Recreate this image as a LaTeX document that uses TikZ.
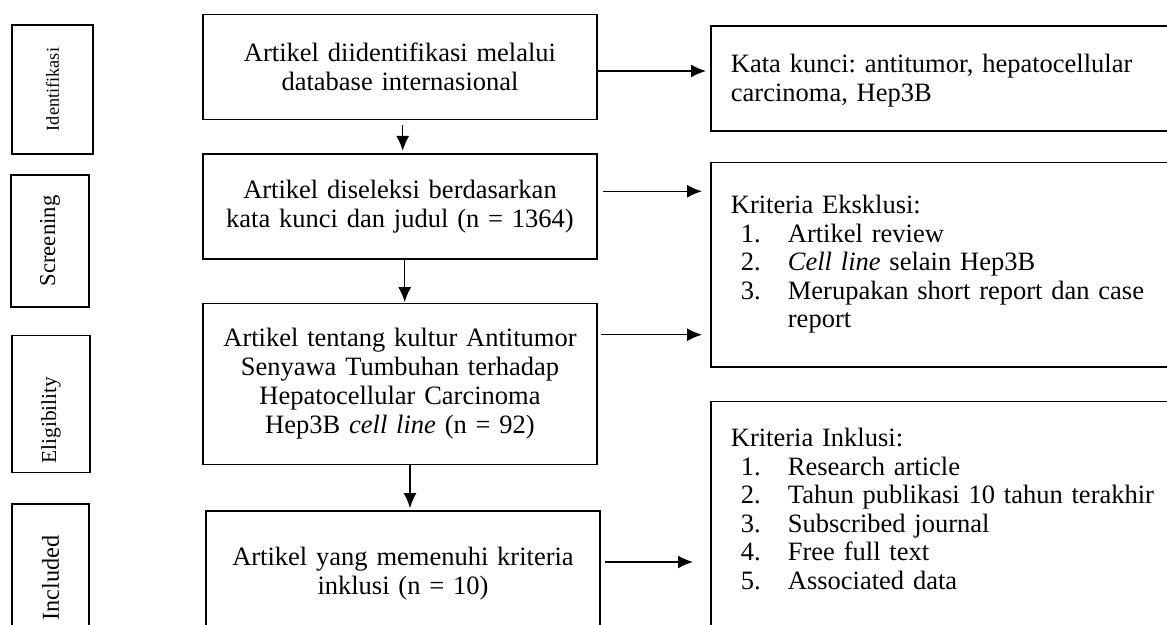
\documentclass[tikz,border=0pt]{standalone}
\usepackage{fontspec}
\setmainfont{Liberation Serif}
\usepackage{tikz}
\usetikzlibrary{shapes,arrows.meta}
\frenchspacing
\tikzstyle{flowbox} = [rectangle, draw, line width=1.8pt, text width=374pt, text centered,
    inner xsep=10pt, font=\fontsize{26.5}{29}\selectfont]
\tikzstyle{notebox} = [rectangle, draw, line width=1.8pt, text width=430pt, align=left,
    inner xsep=20pt, inner ysep=10pt, anchor=north west, font=\fontsize{26.5}{28.5}\selectfont]
\tikzstyle{stagebox} = [rectangle, draw, line width=1.8pt, rotate=90, inner sep=0pt]
\tikzstyle{line} = [draw, line width=1.4pt, -{Latex[length=15pt,width=13pt]}]
\newcommand{\critem}[2]{\hspace*{10pt}\makebox[47pt][l]{#1}#2}

\begin{document}
\begin{tikzpicture}[x=1pt, y=1pt]
    \useasboundingbox (0,0) rectangle (1167,624);
    % stage labels
    \node [stagebox, minimum width=129pt, minimum height=81pt, font=\fontsize{18.3}{20}\selectfont] (sIdent) at (52.5,534.5) {Identifikasi};
    \node [stagebox, minimum width=132pt, minimum height=78pt, font=\fontsize{22.7}{25}\selectfont] (sScreen) at (50,383) {Screening};
    \node [stagebox, minimum height=78pt, text width=119pt, align=left, inner xsep=9pt, font=\fontsize{21.4}{24}\selectfont] (sElig) at (51,220) {Eligibility};
    \node [stagebox, minimum width=148pt, minimum height=77pt, font=\fontsize{24.3}{27}\selectfont] (sIncl) at (50.5,46) {Included};
    % main column
    \node [flowbox, minimum height=105pt] (ident) at (400,557) {Artikel diidentifikasi melalui\\ database internasional};
    \node [flowbox, below of=ident, node distance=139.3pt, minimum height=105pt] (screen) {Artikel diseleksi berdasarkan\\ kata kunci dan judul (n = 1364)};
    \node [flowbox, below of=screen, node distance=177.7pt, minimum height=161pt] (elig) {Artikel tentang kultur Antitumor\\ Senyawa Tumbuhan terhadap\\ Hepatocellular Carcinoma\\ Hep3B \textit{cell line} (n = 92)};
    \node [flowbox, below of=elig, node distance=190pt, minimum height=126pt, xshift=3pt] (incl) {Artikel yang memenuhi kriteria\\ inklusi (n = 10)};
    % notes on the right
    \node [notebox, text height=36.7pt, text depth=48.3pt] (kata) at (710,599) {Kata kunci: antitumor, hepatocellular\\ carcinoma, Hep3B};
    \node [notebox, text height=41pt, text depth=143.3pt] (eksk) at (710,462.3) {Kriteria Eksklusi:\\
        \critem{1.}{Artikel review}\\
        \critem{2.}{\textit{Cell line} selain Hep3B}\\
        \critem{3.}{Merupakan short report dan case}\\
        \hspace*{57pt}report};
    \node [notebox, text height=35.3pt, text depth=194pt] (inkl) at (710,223.3) {Kriteria Inklusi:\\
        \critem{1.}{Research article}\\
        \critem{2.}{Tahun publikasi 10 tahun terakhir}\\
        \critem{3.}{Subscribed journal}\\
        \critem{4.}{Free full text}\\
        \critem{5.}{Associated data}};
    % Draw edges
    \path [line, shorten <=5pt, shorten >=2pt] ([xshift=2.7pt]ident.south) -- ([xshift=2.7pt]ident.south |- screen.north);
    \path [line, shorten >=0.5pt] ([xshift=4.7pt]screen.south) -- ([xshift=4.7pt]screen.south |- elig.north);
    \path [line, shorten >=2pt] ([xshift=10pt]elig.south) -- ([xshift=10pt]elig.south |- incl.north);
    \path [line, shorten >=4pt] ([yshift=-4pt]ident.east) -- ([yshift=-4pt]ident.east -| kata.west);
    \path [line, shorten <=5pt, shorten >=8pt] ([yshift=15pt]screen.east) -- ([yshift=15pt]screen.east -| eksk.west);
    \path [line, shorten <=3pt, shorten >=8pt] ([yshift=49.3pt]elig.east) -- ([yshift=49.3pt]elig.east -| eksk.west);
    \path [line, shorten <=4pt, shorten >=17pt] ([yshift=12pt]incl.east) -- ([yshift=12pt]incl.east -| inkl.west);
\end{tikzpicture}
\end{document}
